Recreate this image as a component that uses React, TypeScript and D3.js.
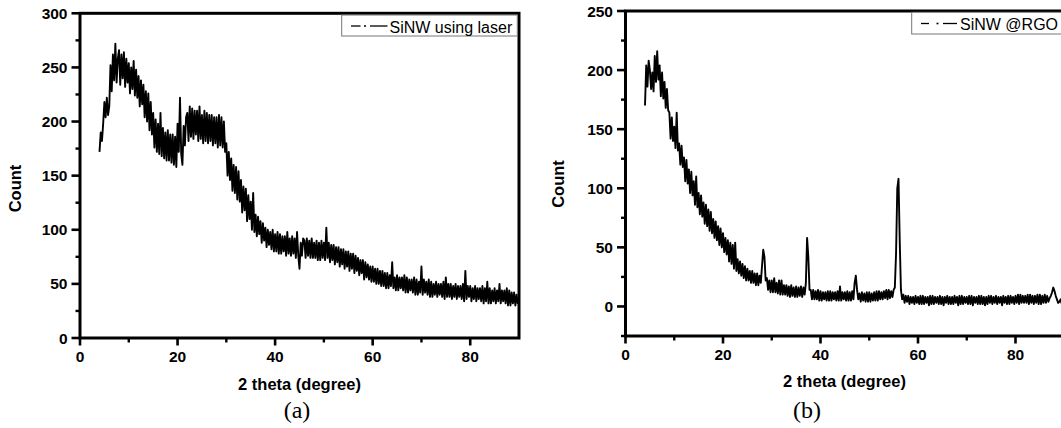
import React from "react";
import * as d3 from "d3";

// ---------- data ----------
const xStart = 4; // 2 theta of first sample (degree)
const xStep = 0.25; // sample spacing (degree)

// Panel (a): SiNW using laser, 4 values per degree from 4.0 to 90.0
const countsA: number[] = [
  172,190,182,198, 218,204,222,206, 214,252,228,262, 238,272,236,258, 266,234,262,240,
  264,232,258,236, 254,226,250,230, 256,224,248,222, 242,214,238,216, 234,204,228,200,
  226,192,218,188, 208,176,202,172, 198,170,208,168, 194,166,190,164, 192,164,188,162,
  188,160,186,158, 198,172,222,170, 160,196,178,204, 208,182,214,186, 212,184,210,188,
  210,182,214,184, 206,180,210,182, 208,180,206,182, 206,178,204,180, 204,176,206,178,
  204,176,200,172, 180,150,172,146, 166,136,160,134, 158,128,154,126, 146,116,140,118,
  138,108,132,110, 126,100,134,98, 114,94,112,96, 108,88,106,90, 102,84,100,86,
  98,82,100,80, 96,80,98,78, 96,78,94,80, 94,76,98,78, 92,76,94,78,
  92,74,98,76, 64,88,76,92, 90,74,92,76, 90,74,92,74, 88,74,90,72,
  88,72,90,74, 88,72,102,74, 88,70,86,72, 86,68,84,70, 84,66,82,68,
  82,64,80,66, 80,62,78,64, 78,60,76,62, 74,58,72,60, 72,54,70,56,
  68,54,66,52, 66,52,64,50, 64,50,62,48, 62,48,60,46, 60,46,58,48,
  70,46,56,44, 58,44,56,46, 56,44,58,42, 56,42,54,44, 54,42,56,40,
  54,40,52,42, 66,40,54,42, 52,40,54,38, 52,38,50,40, 52,38,50,40,
  50,38,52,36, 56,38,50,38, 50,36,48,38, 50,36,48,38, 48,36,50,34,
  62,36,48,38, 48,34,46,36, 48,34,46,36, 46,34,48,32, 46,34,52,32,
  46,32,44,34, 46,32,44,34, 50,32,44,34, 44,32,46,30, 44,30,42,32,
  42,30,40,32, 34,
];

// Panel (b): SiNW @RGO, 4 values per degree from 4.0 to 90.0
const countsB: number[] = [
  170,204,186,208, 200,184,198,182, 212,190,216,192, 204,178,198,176, 190,168,184,166,
  164,142,160,140, 152,134,164,132, 138,120,136,118, 126,106,124,104, 116,96,114,94,
  106,86,110,84, 96,78,94,76, 88,70,86,68, 82,64,80,62, 74,58,72,56,
  68,52,66,50, 62,46,58,44, 56,38,54,36, 52,32,54,30, 40,28,38,26,
  36,24,34,22, 32,22,30,20, 30,20,28,18, 28,18,26,20, 34,48,42,22,
  24,14,22,12, 22,12,24,12, 20,11,22,10, 22,10,18,10, 18,9,17,8,
  18,9,16,8, 17,8,16,9, 17,8,16,10, 20,58,42,14, 14,6,14,6,
  13,6,14,5, 13,5,12,6, 12,5,13,5, 13,5,12,6, 12,5,13,5,
  17,5,12,6, 12,5,13,5, 12,5,13,6, 20,26,14,6, 11,4,12,5,
  11,4,12,4, 12,4,11,5, 12,5,13,5, 13,6,12,6, 13,7,14,6,
  14,7,13,8, 14,16,45,100, 108,56,14,6, 10,3,9,4, 9,2,8,3,
  8,2,9,3, 8,2,9,2, 9,2,8,3, 8,1,9,2, 9,2,8,3,
  8,2,9,2, 8,1,8,3, 9,2,8,2, 8,2,9,3, 8,1,9,2,
  9,2,8,3, 8,2,9,2, 9,1,8,3, 8,2,9,2, 9,2,8,1,
  8,2,9,3, 9,2,8,3, 9,2,8,3, 8,1,9,3, 8,2,9,2,
  9,3,8,2, 9,3,10,2, 10,3,9,3, 9,3,10,2, 10,3,9,2,
  9,3,10,2, 10,2,9,3, 10,3,9,4, 7,9,12,16, 13,9,6,3,
  4,6,2,4, 3,
];

const xMajorTicks = [0, 20, 40, 60, 80];
const xMinorTicks = [10, 30, 50, 70];
const yMajorTicksA = [0, 50, 100, 150, 200, 250, 300];
const yMinorTicksA = [25, 75, 125, 175, 225, 275];
const yMajorTicksB = [0, 50, 100, 150, 200, 250];
const yMinorTicksB = [-25, 25, 75, 125, 175, 225];

const xTitle = "2 theta (degree)";
const yTitle = "Count";
const legendA = "SiNW using laser";
const legendB = "SiNW @RGO";

// ---------- drawing ----------
const SANS = "'Liberation Sans', Arial, Helvetica, sans-serif";
const SERIF = "'Liberation Serif', 'Times New Roman', serif";

type PanelProps = {
  counts: number[];
  xr: [number, number];
  yr: [number, number];
  yDomain: [number, number];
  yMajor: number[];
  yMinor: number[];
  xTitleX: number;
  xTitleY: number;
  yTitleX: number;
  yTitleY: number;
  capX: number;
  capText: string;
  legend: {
    x: number; y: number; w: number; h: number;
    lineY: number; d1: [number, number]; dot: [number, number]; d2: [number, number];
    textX: number; textY: number; text: string;
  };
};

function Panel(p: PanelProps) {
  const x = d3.scaleLinear().domain([0, 90]).range(p.xr);
  const y = d3.scaleLinear().domain(p.yDomain).range(p.yr);
  const line = d3
    .line<number>()
    .x((_, i) => x(xStart + i * xStep))
    .y((d) => y(d));
  const [x0, x1] = p.xr;
  const yBottom = p.yr[0];
  const yTop = p.yr[1];
  const lg = p.legend;
  return (
    <g>
      <path d={line(p.counts) || ""} fill="none" stroke="#000" strokeWidth={1.9} strokeLinejoin="round" />
      {/* frame */}
      <rect x={x0} y={yTop} width={x1 - x0} height={yBottom - yTop} fill="none" stroke="#000" strokeWidth={3} />
      {/* x ticks */}
      {xMajorTicks.map((t) => (
        <g key={"xM" + t}>
          <line x1={x(t)} x2={x(t)} y1={yBottom} y2={yBottom + 7.5} stroke="#000" strokeWidth={2.6} />
          <text x={x(t)} y={yBottom + 24} textAnchor="middle" fontFamily={SANS} fontWeight="bold" fontSize={15.5}>
            {t}
          </text>
        </g>
      ))}
      {xMinorTicks.map((t) => (
        <line key={"xm" + t} x1={x(t)} x2={x(t)} y1={yBottom} y2={yBottom + 4.5} stroke="#000" strokeWidth={2.4} />
      ))}
      {/* y ticks */}
      {p.yMajor.map((t) => (
        <g key={"yM" + t}>
          <line x1={x0} x2={x0 - 8.5} y1={y(t)} y2={y(t)} stroke="#000" strokeWidth={2.6} />
          <text x={x0 - 12.5} y={y(t)} dy="0.36em" textAnchor="end" fontFamily={SANS} fontWeight="bold" fontSize={15.5}>
            {t}
          </text>
        </g>
      ))}
      {p.yMinor.map((t) => (
        <line key={"ym" + t} x1={x0} x2={x0 - 4.5} y1={y(t)} y2={y(t)} stroke="#000" strokeWidth={2.4} />
      ))}
      {/* titles */}
      <text x={p.xTitleX} y={p.xTitleY} textAnchor="middle" fontFamily={SANS} fontWeight="bold" fontSize={16.5}>
        {xTitle}
      </text>
      <text
        transform={`translate(${p.yTitleX},${p.yTitleY}) rotate(-90)`}
        textAnchor="middle"
        fontFamily={SANS}
        fontWeight="bold"
        fontSize={16.5}
      >
        {yTitle}
      </text>
      <text x={p.capX} y={418} textAnchor="middle" fontFamily={SERIF} fontSize={24}>
        {p.capText}
      </text>
      {/* legend */}
      <rect x={lg.x} y={lg.y} width={lg.w} height={lg.h} fill="#fff" stroke="#777" strokeWidth={1} />
      <line x1={lg.d1[0]} x2={lg.d1[1]} y1={lg.lineY} y2={lg.lineY} stroke="#000" strokeWidth={1.3} />
      <line x1={lg.dot[0]} x2={lg.dot[1]} y1={lg.lineY} y2={lg.lineY} stroke="#000" strokeWidth={1.6} />
      <line x1={lg.d2[0]} x2={lg.d2[1]} y1={lg.lineY} y2={lg.lineY} stroke="#000" strokeWidth={1.3} />
      <text x={lg.textX} y={lg.textY} fontFamily={SANS} fontSize={16}>
        {lg.text}
      </text>
    </g>
  );
}

export default function App() {
  return (
    <svg
      width={1061}
      height={428}
      viewBox="0 0 1061 428"
      style={{ position: "absolute", left: 0, top: 0, background: "#fff" }}
    >
      <rect width={1061} height={428} fill="#fff" />
      <Panel
        counts={countsA}
        xr={[80, 519]}
        yr={[338, 13.3]}
        yDomain={[0, 300]}
        yMajor={yMajorTicksA}
        yMinor={yMinorTicksA}
        xTitleX={299.5}
        xTitleY={389.5}
        yTitleX={21}
        yTitleY={188.5}
        capX={297}
        capText="(a)"
        legend={{
          x: 341.7, y: 15, w: 175.6, h: 21,
          lineY: 26, d1: [351, 360.5], dot: [364, 366], d2: [370, 387.5],
          textX: 389.5, textY: 32.5, text: legendA,
        }}
      />
      <Panel
        counts={countsB}
        xr={[625.5, 625.5 + 90 * 4.875]}
        yr={[336, 11]}
        yDomain={[-25, 250]}
        yMajor={yMajorTicksB}
        yMinor={yMinorTicksB}
        xTitleX={844.5}
        xTitleY={386.5}
        yTitleX={564}
        yTitleY={184}
        capX={807}
        capText="(b)"
        legend={{
          x: 911.7, y: 12.3, w: 200, h: 21.7,
          lineY: 23.5, d1: [921, 929], dot: [936.5, 938.5], d2: [943, 957],
          textX: 960, textY: 29.5, text: legendB,
        }}
      />
    </svg>
  );
}
